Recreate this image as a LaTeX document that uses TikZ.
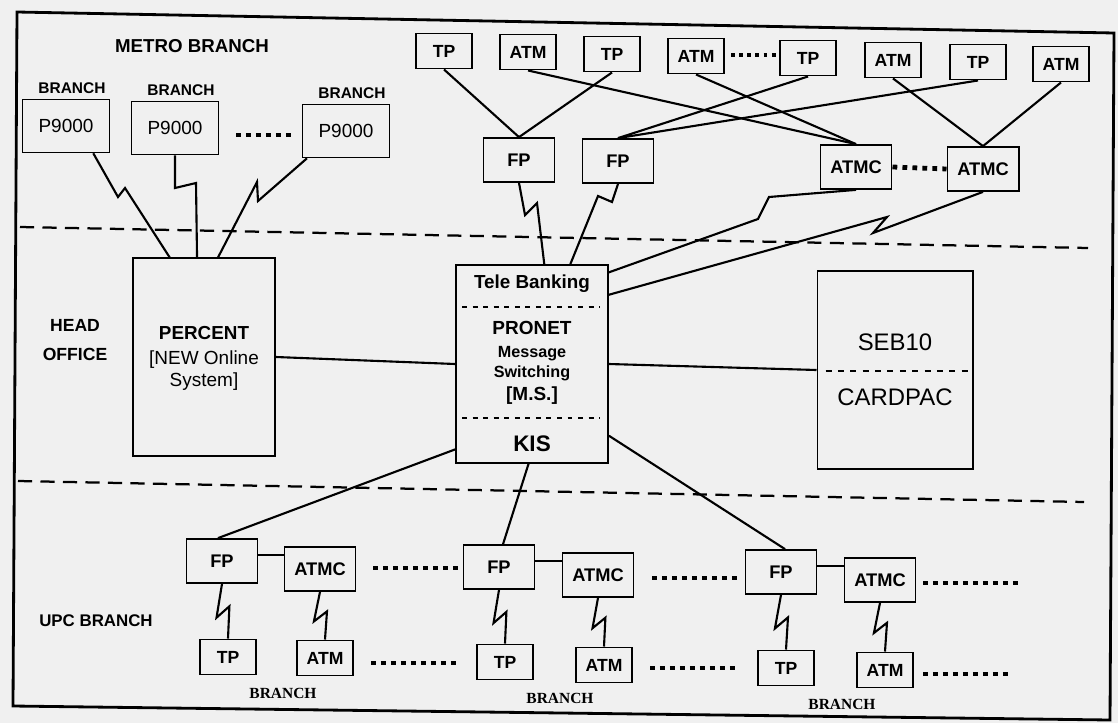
\documentclass[tikz,border=0pt]{standalone}
\usepackage{fontspec}
\setmainfont{Liberation Sans}
\newfontfamily\serifbold{Liberation Serif}
\usetikzlibrary{calc}

\begin{document}
\begin{tikzpicture}[x=0.025cm,y=-0.025cm,
    fs/.style={font=\fontsize{#1}{#1}\selectfont,text height=0.716*#1pt,text depth=0pt},
    fb/.style={font=\fontsize{#1}{#1}\selectfont\bfseries,text height=0.716*#1pt,text depth=0pt},
    box/.style={draw,line width=1.25pt,inner sep=0pt},
    term/.style={box,fb=12.5,minimum width=1.4cm,minimum height=0.88cm},
    ctrl/.style={box,fb=13,minimum width=1.78cm,minimum height=1.1cm},
    p9/.style={box,fs=13.5,minimum width=2.17cm,minimum height=1.32cm},
    bigbox/.style={box,minimum width=3.8cm,minimum height=4.95cm},
    txt/.style={inner sep=0pt},
    link/.style={line width=1.5pt},
    every edge/.append style={line width=1.5pt},
    zig/.style={to path={-- ($(\tikztostart)!0.6!(\tikztotarget)!6.5pt!-90:(\tikztotarget)$)
                         -- ($(\tikztostart)!0.42!(\tikztotarget)!3.5pt!90:(\tikztotarget)$)
                         -- (\tikztotarget)}},
    zone/.style={line width=1.6pt,dash pattern=on 10pt off 6pt},
    split/.style={line width=1.9pt,dash pattern=on 3.5pt off 4pt},
    bigdots/.style={line width=3.4pt,dash pattern=on 3.4pt off 3.7pt},
    smalldots/.style={line width=2.7pt,dash pattern=on 2.7pt off 3.1pt},
    frame/.style={line width=2pt}]
    \useasboundingbox[fill=black!6] (0,0) rectangle (1118,723);
    % ------------------------------------------------------------------
    %                             NODES
    % ------------------------------------------------------------------
    % metro branch
    \node[txt,fb=13.3] (metro) at (192,46) {METRO BRANCH};
    \node[txt,fb=11]   (br1)   at (72,88)  {BRANCH};
    \node[txt,fb=11]   (br2)   at (181,90) {BRANCH};
    \node[txt,fb=11]   (br3)   at (352,93) {BRANCH};
    \node[p9] (p1) at (66,126)  {P9000};
    \node[p9] (p2) at (175,128) {P9000};
    \node[p9] (p3) at (346,131) {P9000};
    % top row of terminals
    \node[term] (tp1)  at (444,51)  {TP};
    \node[term] (atm1) at (528,52)  {ATM};
    \node[term] (tp2)  at (612,54)  {TP};
    \node[term] (atm2) at (696,56)  {ATM};
    \node[term] (tp3)  at (808,58)  {TP};
    \node[term] (atm3) at (893,60)  {ATM};
    \node[term] (tp4)  at (978,62)  {TP};
    \node[term] (atm4) at (1061,64) {ATM};
    % front-ends of the metro branch
    \node[ctrl] (fp1)   at (519,160) {FP};
    \node[ctrl] (fp2)   at (618,161) {FP};
    \node[ctrl] (atmc1) at (856,167) {ATMC};
    \node[ctrl] (atmc2) at (983,169) {ATMC};
    % head office
    \node[txt,font=\fontsize{12.5}{20}\selectfont\bfseries,align=center] (head) at (75,340) {HEAD\\OFFICE};
    \node[bigbox,minimum width=3.55cm,minimum height=4.93cm] (percent) at (204,357) {};
    \node[txt,fb=13.4] (percent1) at (204,333) {PERCENT};
    \node[txt,fs=13.5] (percent2) at (204,358) {[NEW Online};
    \node[txt,fs=13.5] (percent3) at (204,380) {System]};
    \node[bigbox] (tele) at (532,364) {};
    \node[txt,fb=13.4] (tele1) at (532,282) {Tele Banking};
    \node[txt,fb=13.5] (tele2) at (532,328) {PRONET};
    \node[txt,fb=11.5] (tele3) at (532,352) {Message};
    \node[txt,fb=11.5] (tele4) at (532,372) {Switching};
    \node[txt,fb=13.5] (tele5) at (532,394) {[M.S.]};
    \node[txt,fb=16]   (tele6) at (532,443) {KIS};
    \node[bigbox,minimum width=3.88cm] (seb) at (895,370) {};
    \node[txt,fs=17] (seb1) at (895,342) {SEB10};
    \node[txt,fs=17] (seb2) at (895,397) {CARDPAC};
    % upc branch
    \node[txt,fb=12] (upc) at (96,620) {UPC BRANCH};
    \node[ctrl] (fpA)   at (222,561) {FP};
    \node[ctrl] (atmcA) at (320,569) {ATMC};
    \node[ctrl] (fpB)   at (499,567) {FP};
    \node[ctrl] (atmcB) at (598,575) {ATMC};
    \node[ctrl] (fpC)   at (781,572) {FP};
    \node[ctrl] (atmcC) at (880,580) {ATMC};
    \node[term] (tpA)  at (228,657) {TP};
    \node[term] (atmA) at (325,658) {ATM};
    \node[term] (tpB)  at (505,662) {TP};
    \node[term] (atmB) at (604,665) {ATM};
    \node[term] (tpC)  at (786,668) {TP};
    \node[term] (atmC) at (885,670) {ATM};
    \node[txt,font=\fontsize{11}{11}\selectfont\serifbold\bfseries] (brA) at (283,693) {BRANCH};
    \node[txt,font=\fontsize{11}{11}\selectfont\serifbold\bfseries] (brB) at (560,698) {BRANCH};
    \node[txt,font=\fontsize{11}{11}\selectfont\serifbold\bfseries] (brC) at (842,704) {BRANCH};

    % ------------------------------------------------------------------
    %                             EDGES
    % ------------------------------------------------------------------
    % frame and zones
    \draw[frame] (17,12) -- (1114,33) -- (1110,720) -- (13,706) -- cycle;
    \draw[zone] (20,227) -- (1088,248);
    \draw[zone] (18,481) -- (1084,502);
    % splits inside the boxes
    \draw[split] ($(tele.north west)+(7,43)$) -- ($(tele.north east)+(-9,43)$);
    \draw[split] ($(tele.north west)+(7,154)$) -- ($(tele.north east)+(-9,154)$);
    \draw[split,line width=1.6pt,dash pattern=on 4.3pt off 4.5pt]
      ($(seb.north west)+(9,101)$) -- ($(seb.north east)+(-6,101)$);
    % metro branch lines
    \draw[link] (p1.-45.5) -- (118,197) -- (125,188) -- (percent.109);
    \draw[link] (p2.south) -- (175,188) -- (196,183) -- (percent.94.6);
    \draw[link] (p3.215) -- (258,201) -- (257,182) -- (percent.82);
    \path
      (tp1.south)  edge (fp1.north)
      (tp2.south)  edge (fp1.north)
      (tp3.south)  edge (fp2.north)
      (tp4.south)  edge (fp2.north)
      (atm1.south) edge (atmc1.north)
      (atm2.south) edge (atmc1.north)
      (atm3.south) edge (atmc2.north)
      (atm4.south) edge (atmc2.north);
    \draw[link] (fp1.south) -- (525,215) -- (537,203) -- (tele.83);
    \draw[link] (fp2.south) -- (612,202) -- (598,196) -- (tele.69.5);
    \draw[link] (atmc1.south) -- (769,197) -- (758,219) -- (tele.50);
    \draw[link] (atmc2.south) -- (873,233) -- (887,217) -- (tele.42.6);
    % head office lines
    \path
      (percent.east) edge (tele.west)
      (tele.east)    edge (seb.west)
      (tele.228.5)   edge (fpA.100)
      (tele.268)     edge (fpB.80)
      (tele.-43.8)   edge (fpC.80);
    % upc branch lines
    \path
      (fpA.10) edge (fpA.10 -| atmcA.west)
      (fpB.10) edge (fpB.10 -| atmcB.west)
      (fpC.10) edge (fpC.10 -| atmcC.west)
      (fpA.south)   edge[zig] (tpA.north)
      (atmcA.south) edge[zig] (atmA.north)
      (fpB.south)   edge[zig] (tpB.north)
      (atmcB.south) edge[zig] (atmB.north)
      (fpC.south)   edge[zig] (tpC.north)
      (atmcC.south) edge[zig] (atmC.north);
    % dots
    \draw[bigdots] (236,135) -- (291,135);
    \draw[smalldots] (731,55) -- (776,55);
    \draw[bigdots] (atmc1.east) -- (atmc2.west);
    \draw[bigdots] (373,568) -- (458,568);
    \draw[bigdots] (652,578) -- (737,578);
    \draw[bigdots] (923,583) -- (1018,583);
    \draw[bigdots] (371,663) -- (456,663);
    \draw[bigdots] (650,668) -- (735,668);
    \draw[bigdots] (923,674) -- (1008,674);
\end{tikzpicture}
\end{document}
